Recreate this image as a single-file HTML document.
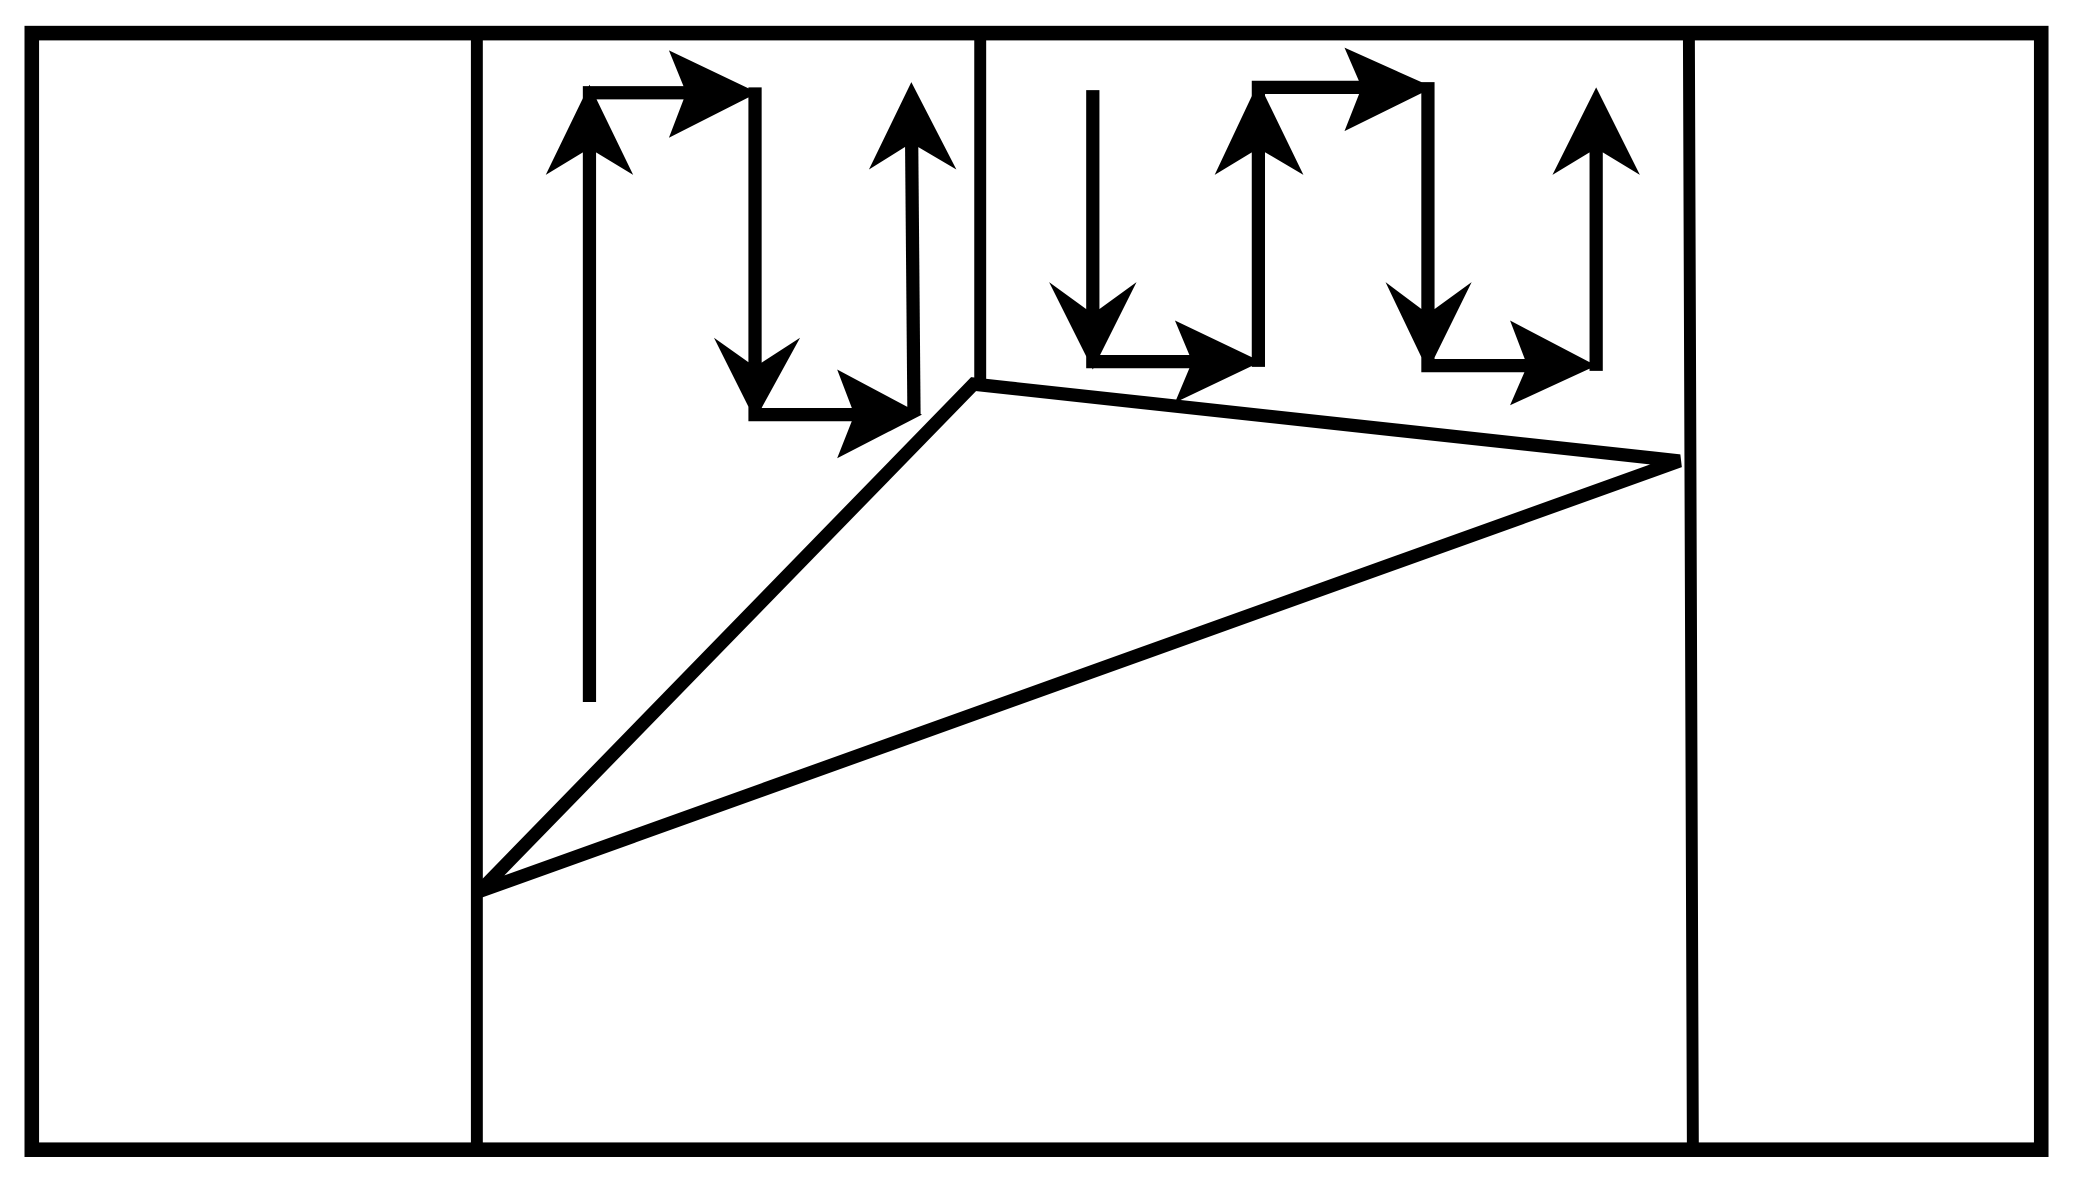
<!DOCTYPE html>
<html><head><style>html,body{margin:0;padding:0;background:#fff}svg{display:block}</style></head>
<body>
<svg width="2077" height="1186" viewBox="0 0 1568 895.4" preserveAspectRatio="none" xmlns="http://www.w3.org/2000/svg">
<g fill="none" stroke="#000" stroke-linecap="square">
<rect x="24" y="25" width="1517" height="843" stroke-width="11"/>
<line x1="360" y1="25" x2="360" y2="868" stroke-width="9"/>
<line x1="740" y1="25" x2="740" y2="284" stroke-width="9"/>
<line x1="1275" y1="25" x2="1278" y2="868" stroke-width="9"/>
<polygon points="735,290 1268,348 362,673" stroke-width="10" stroke-linejoin="miter"/>
<g stroke-width="10" stroke-linecap="butt">
<polyline points="445,530 445,70 560,70"/>
<polyline points="570,66 570,313 682,313"/>
<line x1="690" y1="313" x2="688" y2="80"/>
<polyline points="825,68 825,273 940,273"/>
<polyline points="950,277 950,66 1068,66"/>
<polyline points="1078,62 1078,276 1192,276"/>
<line x1="1205" y1="280" x2="1205" y2="80"/>
</g>
</g>
<g fill="#000">
<polygon points="445,64 478,132 445,112 412,132"/>
<polygon points="688,62 722,128 688,108 656,128"/>
<polygon points="950,62 984,132 950,112 917,132"/>
<polygon points="1205,66 1238,132 1205,112 1172,132"/>
<polygon points="570,317 604,255 570,277 539,255"/>
<polygon points="825,279 858,213 825,237 792,213"/>
<polygon points="1078,280 1111,213 1078,237 1046,213"/>
<polygon points="572,70 505,38 518,70 505,104"/>
<polygon points="696,313 632,279 645,313 632,346"/>
<polygon points="952,273 887,242 900,273 887,304"/>
<polygon points="1082,66 1015,36 1028,66 1015,99"/>
<polygon points="1205,276 1140,242 1153,276 1140,306"/>
</g>
</svg>
</body></html>
